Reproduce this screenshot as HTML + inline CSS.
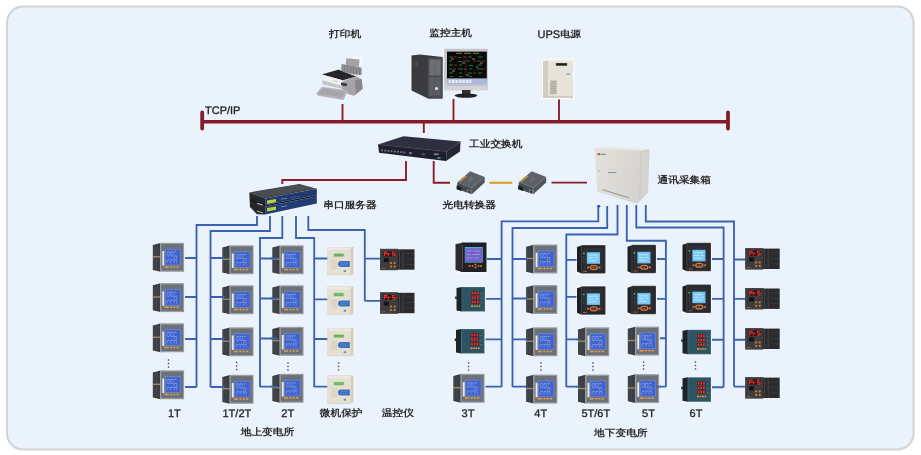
<!DOCTYPE html>
<html><head><meta charset="utf-8"><title>diagram</title>
<style>
html,body{margin:0;padding:0;background:#fff;}
body{width:921px;height:455px;overflow:hidden;}
svg{display:block;will-change:transform;text-rendering:geometricPrecision;}
text{font-family:"Liberation Sans",sans-serif;font-size:11px;fill:#1e1e1e;stroke:#1e1e1e;stroke-width:0.3;}
.cn{font-weight:bold;font-size:10.7px;fill:#2a2a2a;stroke:none;transform-box:fill-box;transform-origin:50% 0;transform:scaleY(0.88);}
.r{stroke:#8a1e29;fill:none;stroke-width:1.9;}
.b{stroke:#3c61ae;fill:none;stroke-width:1.85;}
</style></head>
<body>
<svg width="921" height="455" viewBox="0 0 921 455">
<defs>
 <!-- Meter A: gray bezel, blue screen, 32x29 -->
 <g id="mA">
  <rect x="0" y="0" width="32.5" height="30" fill="#f3f5f8"/>
  <polygon points="0.3,2.5 7.8,0.5 7.8,29.3 0.3,27.5" fill="#3b3f45"/>
  <path d="M1.5 4v22M4 3.5v23" stroke="#474b52" stroke-width="0.8"/>
  <rect x="0.3" y="13.6" width="7.5" height="1.3" fill="#a08f6c"/>
  <rect x="7.6" y="0.3" width="24" height="29" fill="#979da3"/>
  <rect x="8.8" y="1.6" width="21.6" height="26.4" fill="#6b7177"/>
  <rect x="9.8" y="8.5" width="1.9" height="14.5" fill="#e9ebed"/>
  <g transform="translate(0.6,0.8)">
  <rect x="11.7" y="5.6" width="16.2" height="16.4" fill="#6e8ce0"/>
  <rect x="12.4" y="6.3" width="14.8" height="15" fill="#4263cb"/>
  <path d="M14 8.6h2.5M17.5 8.6h2.5M21 8.6h2.5M14 12.6h2.5M17.5 12.6h2.5M21 12.6h2.5M14 16.6h2.5M17.5 16.6h2.5M21 16.6h2.5" stroke="#86a2ea" stroke-width="0.9"/>
  <path d="M14 8.6v3.5M16.5 8.6v3.5M17.5 8.6v3.5M20 8.6v3.5M21 12.6v3.5M23.5 12.6v3.5M14 16.6v3.2M17.5 16.6v3.2M21 16.6v3.2M23.5 16.6v3.2" stroke="#7391e3" stroke-width="0.8"/>
  </g>
  <path d="M12 24.4h4.2M17.6 24.4h2M20.8 24.4h2M24 24.4h2.3" stroke="#eb9c3e" stroke-width="1.5"/>
 </g>
 <!-- Meter B: black, purple screen, 31x30 -->
 <g id="mB">
  <rect x="0" y="0" width="32" height="31" fill="#f4f6f8"/>
  <polygon points="0.5,2 7,1 7,30 0.5,28" fill="#2a2c30"/>
  <rect x="6.5" y="0.5" width="25" height="29.5" fill="#1f2125"/>
  <rect x="9.8" y="5" width="18" height="15.6" fill="#5aa8d6"/>
  <rect x="10.3" y="6.3" width="17" height="13.8" fill="#7064c9"/>
  <path d="M11.5 9h5M18 9h7M11.5 12.5h4M17 12.5h8M11.5 16h6M19 16h5" stroke="#a294e4" stroke-width="0.9"/>
  <path d="M7.5 3v24" stroke="#5a5c60" stroke-width="0.8"/>
  <circle cx="14.5" cy="24" r="1" fill="#e07a30"/><circle cx="17.5" cy="24" r="1" fill="#e07a30"/>
  <circle cx="20.5" cy="22.5" r="1" fill="#e07a30"/><circle cx="20.5" cy="25.5" r="1" fill="#e07a30"/>
  <circle cx="23.5" cy="24" r="1" fill="#e07a30"/><circle cx="26" cy="24" r="1" fill="#e07a30"/>
 </g>
 <!-- Meter C: teal LED, 29x25 -->
 <g id="mC">
  <rect x="0" y="0" width="30" height="26" fill="#f2f4f6"/>
  <polygon points="0.5,1.5 6,0.5 6,25 0.5,24" fill="#1b2529"/>
  <rect x="-0.8" y="10" width="1.6" height="2.5" fill="#222"/>
  <rect x="5.6" y="0.5" width="23.4" height="24.5" fill="#4c6c76"/>
  <rect x="6.4" y="1.2" width="21.9" height="23.1" fill="#2c5461"/>
  <rect x="15" y="4.8" width="8.4" height="3.4" fill="#4a1618"/>
  <rect x="15" y="9.3" width="8.4" height="3.4" fill="#4a1618"/>
  <rect x="15" y="13.8" width="8.4" height="3.4" fill="#4a1618"/>
  <path d="M15.6 6.5h1.8M18.3 6.5h1.8M21 6.5h1.8M15.6 11h1.8M18.3 11h1.8M21 11h1.8M15.6 15.5h1.8M18.3 15.5h1.8M21 15.5h1.8" stroke="#e23434" stroke-width="2.4"/>
  <path d="M15 19.7h2M17.8 19.7h1.6M20.2 19.7h1.6M22.6 19.7h1.6" stroke="#ea9a3e" stroke-width="1.6"/>
  <path d="M25 7h1.5M25 11.5h1.5M25 16h1.5" stroke="#7a9aa4" stroke-width="0.6"/>
 </g>
 <!-- Meter D: black bezel, light-blue screen, 29x29 -->
 <g id="mD">
  <rect x="0" y="0" width="30" height="30" fill="#f4f6f8"/>
  <polygon points="0.5,2.5 5,1 5,29 0.5,27" fill="#1d1f22"/>
  <rect x="4.5" y="0.5" width="24.5" height="28.5" rx="1" fill="#4a4c51"/>
  <rect x="5.3" y="1.3" width="23" height="27" fill="#25272b"/>
  <rect x="7" y="3" width="19.6" height="23.5" fill="#2d2f34"/>
  <rect x="10.3" y="7.6" width="13.2" height="11.6" fill="#5cbcec"/>
  <rect x="11" y="8.3" width="11.8" height="10.2" fill="#7ccaf2"/>
  <path d="M12 10.5h9M12 13.3h5M18.5 13.3h3M12 16h8" stroke="#c2e6fa" stroke-width="0.9"/>
  <rect x="6.6" y="8" width="1.5" height="1.5" fill="#5cd05c"/>
  <path d="M7.3 11.5v1M7.3 14v1M7.3 16.5v1" stroke="#55585e" stroke-width="1"/>
  <ellipse cx="17.3" cy="23" rx="3.6" ry="1.9" fill="none" stroke="#e0783a" stroke-width="1.3"/>
  <circle cx="17.3" cy="23" r="0.8" fill="#b85a2a"/>
  <circle cx="11.6" cy="23" r="1" fill="#e0783a"/><circle cx="23" cy="23" r="1" fill="#e0783a"/>
  <rect x="6.5" y="26.3" width="4" height="1" fill="#a05a3a"/>
 </g>
 <!-- temp controller, 35x22 -->
 <g id="tc">
  <rect x="0" y="0" width="35" height="22" fill="#f2f4f6"/>
  <rect x="0" y="0.3" width="18" height="21.4" fill="#3d3d40"/>
  <rect x="0.5" y="0.8" width="17" height="20.4" fill="none" stroke="#4a4a4e" stroke-width="0.6"/>
  <rect x="17.5" y="0.8" width="17" height="20.4" fill="#2b2b2e"/>
  <path d="M19.5 2v18M23 2v18" stroke="#4c4c50" stroke-width="0.8"/>
  <path d="M25 5h9M25 10.5h9M25 16h9" stroke="#3a3a3e" stroke-width="1"/>
  <rect x="3.4" y="2.8" width="12" height="5" fill="#2a1012"/>
  <path d="M4.4 7.4V3.5H6.9V5.4H4.4M8.4 7.4V5.2H10.4M14.8 3.5H12.4V5.4H14.8V7.3H12.3" fill="none" stroke="#ec3030" stroke-width="1.1"/>
  <rect x="3.8" y="9.6" width="5" height="4" fill="#141416"/>
  <circle cx="11" cy="14.6" r="1.1" fill="#d9793a"/><circle cx="14.6" cy="14.6" r="1.1" fill="#d9793a"/>
  <circle cx="11" cy="18.1" r="1.1" fill="#d9793a"/><circle cx="14.6" cy="18.1" r="1.1" fill="#d9793a"/>
  <rect x="1.5" y="19.3" width="4" height="1" fill="#8a5a3a"/>
 </g>
 <!-- protection relay, 26x28 -->
 <g id="pr">
  <rect x="0" y="0" width="27" height="29" fill="#f6f6f4"/>
  <rect x="0.3" y="0.8" width="23.2" height="27.6" fill="#e4e0d2" stroke="#cfcbbd" stroke-width="0.6"/>
  <rect x="0.6" y="0.8" width="22.6" height="2.6" fill="#ecE9de"/>
  <polygon points="23.5,0.8 26,0.3 26,28 23.5,28.4" fill="#d2cec0"/>
  <rect x="5.8" y="6.6" width="11" height="4" fill="#c9cbb6"/>
  <rect x="6.6" y="7.4" width="9.4" height="2.4" fill="#4fae4a"/>
  <path d="M7.3 8.6h8" stroke="#7cd070" stroke-width="0.7"/>
  <rect x="3.6" y="13" width="6" height="9.5" fill="#d9d5c8"/>
  <path d="M13.5 14.4H22.3V20.4H13.5A3 3 0 0 1 13.5 14.4Z" fill="#3c6fc1"/>
  <path d="M13 16.5h7M13 18.3h6" stroke="#6d95d6" stroke-width="0.5"/>
  <rect x="16.2" y="23.8" width="2.4" height="1.8" fill="#5b86c8"/>
 </g>
</defs>

<!-- panel -->
<rect x="7" y="6.5" width="906.5" height="443" rx="16" fill="#eaf2fc" stroke="#d3d3d3" stroke-width="2"/>

<!-- TCP/IP bus -->
<path d="M202 121.8H728" stroke="#861a25" stroke-width="3.6" fill="none"/>
<path d="M202.2 112.5V128.5M728 112.5V128.5" stroke="#861a25" stroke-width="3.8" stroke-linecap="round" fill="none"/>
<text x="205" y="114.3">TCP/IP</text>

<!-- red links -->
<path class="r" d="M342.5 104V121M453.5 99V121M559 98V121M423.8 122V133"/>
<path class="r" d="M406 161V180H282.3V184"/>
<path class="r" d="M433.7 161V182.7H450"/>
<path d="M489.5 182.8H512.3" stroke="#d6a52a" stroke-width="2.2" fill="none"/>
<path class="r" d="M551.5 182.6H587"/>

<!-- blue links left -->
<path class="b" d="M257 216V225H196.5V387M185 258H196.5M185 297H196.5M185 339H196.5M185 387H196.5"/>
<path class="b" d="M270 216V231H210.5V387M210.5 258H222M210.5 297H222M210.5 339H222M210.5 387H222"/>
<path class="b" d="M282.3 216V238H260V387M260 258.5H272M260 298.5H272M260 338.5H272M260 386.6H272"/>
<path class="b" d="M296 216V238H314.2V387M314.2 258.5H328M314.2 299.3H328M314.2 339H328M314.2 386.6H328"/>
<path class="b" d="M308.3 216V230H364.8V301M364.8 258.6H380M364.8 300.8H380"/>

<!-- blue links right -->
<path class="b" d="M598.3 205V221.4H501.6V387M486 259H501.6M485 298.8H501.6M485 339.4H501.6M485 386.6H501.6"/>
<path class="b" d="M607.2 206V228H512.5V387M512.5 259H526M512.5 298.5H526M512.5 339.4H526M512.5 386.6H526"/>
<path class="b" d="M617.5 205V234.5H566.3V387M566.3 259.9H577M566.3 296.8H577M566.3 339.4H578M566.3 386.6H578"/>
<path class="b" d="M626.8 205V240.7H665.9V387M656 259H665.9M656 298.8H665.9M660 338.2H665.9M660 386.6H665.9"/>
<path class="b" d="M636.3 205V227.5H723.6V387.2M711 259H723.6M711 298.8H723.6M712 339.7H723.6M712 387.2H723.6"/>
<path class="b" d="M645.8 205V221.5H734V386.6M734 259.5H745.5M734 298.8H745.5M734 339.7H745.5M734 386.6H745.5"/>

<!-- top devices -->
<!-- printer -->
<g>
 <rect x="352" y="56.5" width="11" height="8" fill="#f6f7f9"/>
 <polygon points="346.3,58.2 359.5,59.6 358.8,67 345.5,66" fill="#a3a3a7"/>
 <polygon points="341.5,64 361.6,67.7 361.6,75 341,72.5" fill="#8e8e93"/>
 <path d="M344.5 65v8M347.5 65.5v8M350.5 66v8.5M353.5 66.5v8.5M356.5 67v8.5M359.5 67.5v7.5" stroke="#7a7a7e" stroke-width="0.8"/>
 <polygon points="322,74.6 338.4,69.6 356.3,76.2 361.6,79.3 362.6,88.8 354.2,95.7 341.5,88.8 322.5,84.6" fill="#c6c6c8"/>
 <polygon points="325.2,73.5 338.4,69.7 355.8,76.4 342.6,80.2 322,74.6" fill="#262628"/>
 <polygon points="322,74.6 342.6,80.2 342.6,86 322.5,80.2" fill="#f0f0f0"/>
 <path d="M333 80.5l5 1.3" stroke="#b8b8b8" stroke-width="0.6"/>
 <polygon points="342.6,82 356.3,76.2 361.6,79.3 362.6,88.8 354.2,95.7 347.9,94 342,88.8" fill="#a4a4a8"/>
 <polygon points="355,80 361.6,79.3 362.6,88.8 356,94" fill="#88888c"/>
 <polygon points="341,82.5 346.8,83.5 346.8,86.2 341,85.2" fill="#3a3a3c"/>
 <polygon points="316.2,93.6 322,86.7 347.9,90.4 343.6,99.9 318.3,95.7" fill="#b4b4b8"/>
 <polygon points="318,93.6 323,88.5 345,91.6 342,97.5" fill="#a6a6aa"/>
</g>
<!-- PC tower -->
<g>
 <polygon points="411.5,55.5 420,54.5 442.5,57 442.5,98.5 428,98.5 411.5,90.5" fill="#3a3b3e"/>
 <polygon points="427.5,57.5 442.5,57.5 442.5,98.5 427.5,98.5" fill="#48494d"/>
 <rect x="429.3" y="59.5" width="11.4" height="16" fill="#6e6f74"/>
 <path d="M435 59.5v16" stroke="#5a5b60" stroke-width="0.6"/>
 <rect x="429.3" y="77" width="11.4" height="18.5" fill="#5c5d62"/>
 <path d="M435 77v18.5" stroke="#505156" stroke-width="0.6"/>
 <circle cx="436.5" cy="88.5" r="1.6" fill="#dfe6f2"/>
 <circle cx="415.5" cy="64" r="2" fill="none" stroke="#55565a" stroke-width="0.8"/>
</g>
<!-- monitor -->
<g>
 <rect x="444.2" y="48.8" width="43.6" height="41.4" rx="1" fill="#c4c5c9"/>
 <rect x="444.2" y="84" width="43.6" height="6.2" fill="#d3d4d8"/>
 <rect x="447" y="51.6" width="39.8" height="27" fill="#0a0a0a"/>
 <path d="M456 53.3h6M464 53.3h7M473 53.3h6" stroke="#a8a040" stroke-width="0.8"/>
 <path d="M449 57h4M458 57.5h3M468 57h4M478 57h5M449 61h3M458 61.5h4M467 61h3M477 61h4M449 65h4M459 65h3M469 65.5h4M478 65h4M449 69h3M458 69h5M469 69h3M477 69h5M449 73h4M459 73h3M468 73h4M478 73h4M450 76.5h3M459 76.5h4M469 76.5h3" stroke="#2e8a3a" stroke-width="0.8"/>
 <path d="M454 57h3M463 57h3M473 61h3M454 65h3M464 69h3M473 73h3M482 61h3M453 69h3M463 61h3M482 69h3" stroke="#b82a2a" stroke-width="0.8"/>
 <path d="M451 59h3M462 63h3M472 59h3M480 63h3M452 71h3M466 75h3M476 67h2" stroke="#d0d0d0" stroke-width="0.6"/>
 <path d="M466 56v20" stroke="#603030" stroke-width="0.5"/>
 <rect x="447" y="78.6" width="39.8" height="5.6" fill="#aab8d8"/>
 <path d="M448.5 81.4h2.6M452 81.4h2.6M455.5 81.4h2.6M459 81.4h2.6M462.5 81.4h2.6M466 81.4h2.6M469.5 81.4h2" stroke="#e6e8f8" stroke-width="3.2"/>
 <rect x="447" y="84.4" width="39.8" height="1.4" fill="#b8bcc6"/>
 <rect x="462" y="90" width="8.5" height="4" fill="#2e2e30"/>
 <ellipse cx="466" cy="95.6" rx="11.4" ry="2.2" fill="#232325"/>
</g>
<!-- UPS -->
<g>
 <rect x="541.5" y="58.5" width="33" height="41" fill="#f7f8f8"/>
 <polygon points="543,61.5 548.5,60.3 548.5,97.8 543,96" fill="#d0cec2"/>
 <rect x="548.3" y="60.3" width="24.7" height="37.5" fill="#e6e4d9"/>
 <rect x="548.3" y="60.3" width="24.7" height="1.5" fill="#eeece3"/>
 <rect x="555.8" y="63" width="11.4" height="2.8" fill="#5a5a58"/>
 <rect x="556.3" y="63.5" width="10.4" height="1.8" fill="#1e1e1e"/>
 <rect x="550.2" y="80.4" width="6.5" height="13.7" fill="#c4c3ba"/>
 <path d="M550.5 81.5h6M550.5 83.2h6M550.5 84.9h6M550.5 86.6h6M550.5 88.3h6M550.5 90h6M550.5 91.7h6M550.5 93.3h6" stroke="#a09f96" stroke-width="0.7"/>
 <rect x="543" y="95.8" width="30" height="2" fill="#cfcdc2"/>
 <rect x="566.3" y="73.5" width="3.8" height="1.2" fill="#6a9ac8"/>
</g>
<!-- switch -->
<g>
 <polygon points="378,144.5 403.5,136.2 460.5,141.4 446.5,151.6" fill="#2e3042"/>
 <polygon points="378,144.5 446.5,151.6 446,161 379,152.8" fill="#1e2030"/>
 <polygon points="446.5,151.6 460.5,141.4 460,151.5 446,161" fill="#252737"/>
 <path d="M378.5 144.6L446.5 151.7L460.5 141.5" fill="none" stroke="#3c3f52" stroke-width="0.6"/>
 <g fill="#6a6e80">
  <rect x="381" y="149.4" width="2" height="1.8"/><rect x="384.2" y="149.7" width="2" height="1.8"/>
  <rect x="387.4" y="150" width="2" height="1.8"/><rect x="390.6" y="150.3" width="2" height="1.8"/>
  <rect x="393.8" y="150.6" width="2" height="1.8"/><rect x="397" y="150.9" width="2" height="1.8"/>
  <rect x="400.2" y="151.2" width="2" height="1.8"/><rect x="403.4" y="151.5" width="2" height="1.8"/>
  <rect x="409" y="152" width="3" height="2.2"/>
 </g>
 <rect x="421" y="153.2" width="5" height="1.5" fill="#3a3c4c"/>
 <circle cx="423.5" cy="154.5" r="1" fill="#5a5c6a"/>
 <rect x="434" y="153.5" width="4.5" height="1.6" fill="#8a8c9a"/>
 <rect x="437.5" y="157" width="3" height="2" fill="#4a7aa0"/>
</g>
<!-- serial server -->
<g>
 <polygon points="249.3,192.4 299.5,184 316.8,188.8 265.2,198.6" fill="#43474c"/>
 <polygon points="252,192.2 299,184.6 312,188.4 265,196.8" fill="#4a4e53"/>
 <polygon points="249.3,192.4 265.2,198.6 265.2,214.5 257,214.3 250,207" fill="#25272b"/>
 <path d="M250 199.5l15.2 5.5" stroke="#15171a" stroke-width="1.2"/>
 <polygon points="265.2,198.6 316.8,188.8 316.8,195 265.2,205" fill="#1f3a6e"/>
 <polygon points="265.2,205 316.8,195 316.8,196.6 265.2,206.6" fill="#1a1c20"/>
 <polygon points="265.2,206.6 316.8,196.6 316.8,203.6 265.2,214.5" fill="#213d72"/>
 <polygon points="257,202.8 263,204.6 263,205.8 257,204" fill="#a9adb3"/>
 <polygon points="257,210.6 263,212.4 263,213.4 257,211.7" fill="#a9adb3"/>
 <polygon points="267,200.6 276,198.9 276,202.3 267,204" fill="#b6d23a"/>
 <polygon points="267,208.1 276,206.4 276,209.8 267,211.5" fill="#b6d23a"/>
 <path d="M281 199.2l6-1.1M281 206.8l6-1.1" stroke="#6a86c0" stroke-width="1"/>
 <path d="M290 198.2l10-1.9" stroke="#3a5a98" stroke-width="0.8"/>
</g>
<!-- fiber converters -->
<g id="fc1">
 <polygon points="457.3,182.2 470.2,171.3 484.7,176.9 471.8,188.1" fill="#5c6169"/>
 <polygon points="457.3,182.2 471.8,188.1 471.8,194.2 457,189.1" fill="#464b52"/>
 <polygon points="471.8,188.1 484.7,176.9 484.7,182.5 471.8,194.2" fill="#50555c"/>
 <polygon points="458.6,181.6 465.8,175.6 467,176.3 459.8,182.3" fill="#d8952a"/>
 <path d="M469 178.5l3-1.5M470 180.5l3.5-1.8M468.5 182l3-1.4" stroke="#8d9299" stroke-width="0.5"/>
 <polygon points="456.6,185.5 461.5,187.5 461.5,191 456.6,189.2" fill="#1c1c1e"/>
 <polygon points="467.4,189.3 471.4,190.9 471.4,194 467.4,192.4" fill="#9a9ca0"/>
 <polygon points="468.1,190.3 470.8,191.4 470.8,193.3 468.1,192.2" fill="#2a2a2c"/>
</g>
<use href="#fc1" transform="translate(61.5,0)"/>

<!-- data box -->
<g>
 <polygon points="594.7,148.2 607.9,146.4 649.5,149.2 640.2,150.8" fill="#e8e7e2"/>
 <linearGradient id="bxg" x1="0" y1="0" x2="1" y2="0.3"><stop offset="0" stop-color="#e2e1dc"/><stop offset="1" stop-color="#d5d4ce"/></linearGradient>
 <polygon points="594.7,148.2 640.2,150.8 637.3,204 597.2,191.5" fill="url(#bxg)"/>
 <polygon points="640.2,150.8 649.5,149.2 648,192.2 637.3,204" fill="#d0cfca"/>
 <path d="M642.5 152v47M644.8 151.5v44.5M647 151v42" stroke="#dddcd7" stroke-width="0.7"/>
 <rect x="597.5" y="153.3" width="2.6" height="1.8" fill="#c83a3a"/>
 <path d="M600.6 154.3h5.5" stroke="#7a7a7a" stroke-width="0.9"/>
 <path d="M608 172.6h8.5" stroke="#8e8e8e" stroke-width="1"/>
 <circle cx="599.2" cy="171" r="0.6" fill="#888"/>
 <path d="M602.5 189.7L629 197.9" stroke="#8a8a8a" stroke-width="0.9"/>
</g>

<!-- meters: left group -->
<use href="#mA" x="152.5" y="242.5"/>
<use href="#mA" x="152.5" y="282.8"/>
<use href="#mA" x="152.5" y="323"/>
<use href="#mA" x="152.5" y="370"/>
<use href="#mA" x="222" y="245"/>
<use href="#mA" x="222" y="285"/>
<use href="#mA" x="222" y="327"/>
<use href="#mA" x="222" y="374.5"/>
<use href="#mA" x="272" y="245"/>
<use href="#mA" x="272" y="285"/>
<use href="#mA" x="272" y="326.5"/>
<use href="#mA" x="272" y="373.5"/>
<use href="#pr" x="327.5" y="246.5"/>
<use href="#pr" x="327.5" y="286"/>
<use href="#pr" x="327.5" y="327.5"/>
<use href="#pr" x="327.5" y="375"/>
<use href="#tc" x="380" y="248.5"/>
<use href="#tc" x="380" y="292"/>

<!-- right group -->
<use href="#mB" x="455" y="242"/>
<use href="#mC" x="456" y="286.5"/>
<use href="#mC" x="455.5" y="328.5"/>
<use href="#mA" x="453" y="373.5"/>
<use href="#mA" x="525.8" y="244.2"/>
<use href="#mA" x="525.8" y="284.7"/>
<use href="#mA" x="525.8" y="327"/>
<use href="#mA" x="525.8" y="374.3"/>
<use href="#mD" x="576.5" y="244.6"/>
<use href="#mD" x="576.5" y="285.7"/>
<use href="#mA" x="577.7" y="327"/>
<use href="#mA" x="577.7" y="374.3"/>
<use href="#mD" x="627" y="244.2"/>
<use href="#mD" x="627" y="285.3"/>
<use href="#mA" x="627.5" y="326.3"/>
<use href="#mA" x="627.5" y="373.8"/>
<use href="#mD" x="682" y="242.2"/>
<use href="#mD" x="682" y="284"/>
<use href="#mC" x="682" y="329.3"/>
<use href="#mC" x="682" y="376.8"/>
<use href="#tc" x="745.2" y="247.8"/>
<use href="#tc" x="745.2" y="287.7"/>
<use href="#tc" x="745.2" y="327.8"/>
<use href="#tc" x="745.2" y="376.8"/>

<circle cx="598.9" cy="206.3" r="1.4" fill="#2f55a8"/>
<!-- connector overlaps drawn over devices -->
<path class="b" d="M271 258.5H278M271 298.3H278M271 338.5H277.5M271 386.6H277.5M221 258H224.5M221 297H224.5M221 339H224.5M221 387H224.5M576.5 339.4H580M576.5 386.6H580M661 386.6H655.8M525 259H527M525 298.5H527M525 339.4H527M525 386.6H527"/>

<!-- dots -->
<g fill="#3a3a3a">
 <circle cx="168.5" cy="360" r="0.8"/><circle cx="168.5" cy="363.5" r="0.8"/><circle cx="168.5" cy="367" r="0.8"/>
 <circle cx="236.7" cy="362.5" r="0.8"/><circle cx="236.7" cy="366" r="0.8"/><circle cx="236.7" cy="369.5" r="0.8"/>
 <circle cx="288" cy="363" r="0.8"/><circle cx="288" cy="366.5" r="0.8"/><circle cx="288" cy="370" r="0.8"/>
 <circle cx="338.6" cy="363" r="0.8"/><circle cx="338.6" cy="366.5" r="0.8"/><circle cx="338.6" cy="370" r="0.8"/>
 <circle cx="468.6" cy="363" r="0.8"/><circle cx="468.6" cy="366.5" r="0.8"/><circle cx="468.6" cy="370" r="0.8"/>
 <circle cx="541" cy="363" r="0.8"/><circle cx="541" cy="366.5" r="0.8"/><circle cx="541" cy="370" r="0.8"/>
 <circle cx="593" cy="363" r="0.8"/><circle cx="593" cy="366.5" r="0.8"/><circle cx="593" cy="370" r="0.8"/>
 <circle cx="643.6" cy="362" r="0.8"/><circle cx="643.6" cy="365.5" r="0.8"/><circle cx="643.6" cy="369" r="0.8"/>
 <circle cx="695.5" cy="362" r="0.8"/><circle cx="695.5" cy="365.5" r="0.8"/><circle cx="695.5" cy="369" r="0.8"/>
</g>

<!-- labels -->
<text class="cn" x="329" y="37.8">打印机</text>
<text class="cn" x="429.3" y="37.3">监控主机</text>
<text x="537.6" y="38">UPS</text><text class="cn" x="560.2" y="38" style="font-size:10.4px">电源</text>
<text class="cn" x="469" y="148.3">工业交换机</text>
<text class="cn" x="323.3" y="209">串口服务器</text>
<text class="cn" x="442.5" y="209">光电转换器</text>
<text class="cn" x="657.5" y="184.5">通讯采集箱</text>
<text x="168" y="417">1T</text>
<text x="222.5" y="417">1T/2T</text>
<text x="281.3" y="417">2T</text>
<text class="cn" x="319.8" y="417.5">微机保护</text>
<text class="cn" x="381.8" y="417.5">温控仪</text>
<text x="461.6" y="417">3T</text>
<text x="534.3" y="417">4T</text>
<text x="581.4" y="417">5T/6T</text>
<text x="642.1" y="417">5T</text>
<text x="689.6" y="417">6T</text>
<text class="cn" x="240.7" y="436">地上变电所</text>
<text class="cn" x="594.1" y="437">地下变电所</text>
</svg>
</body></html>
